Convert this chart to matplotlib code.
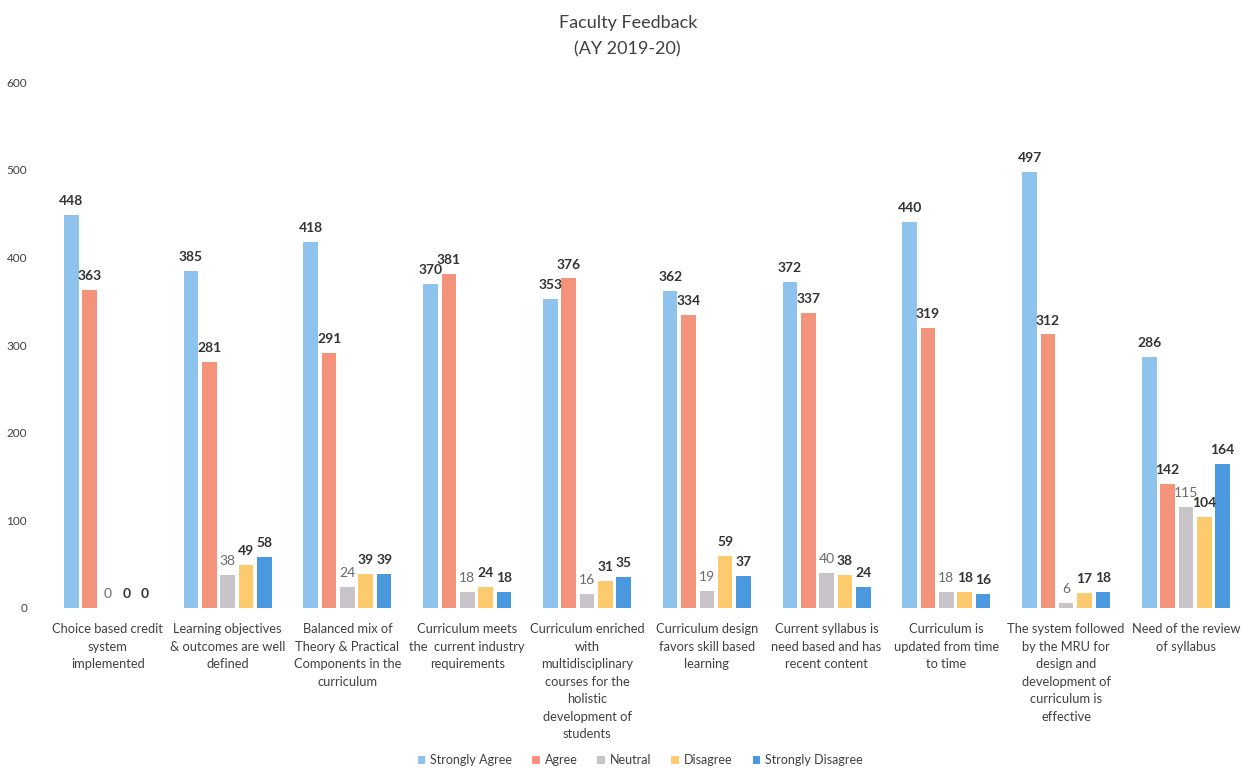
import numpy as np
import matplotlib
matplotlib.use("Agg")
import matplotlib.pyplot as plt

plt.rcParams["font.family"] = ["Lato", "DejaVu Sans"]

categories = [
    "Choice based credit\nsystem\nimplemented",
    "Learning objectives\n& outcomes are well\ndefined",
    "Balanced mix of\nTheory & Practical\nComponents in the\ncurriculum",
    "Curriculum meets\nthe  current industry\nrequirements",
    "Curriculum enriched\nwith\nmultidisciplinary\ncourses for the\nholistic\ndevelopment of\nstudents",
    "Curriculum design\nfavors skill based\nlearning",
    "Current syllabus is\nneed based and has\nrecent content",
    "Curriculum is\nupdated from time\nto time",
    "The system followed\nby the MRU for\ndesign and\ndevelopment of\ncurriculum is\neffective",
    "Need of the review\nof syllabus",
]
series_names = ["Strongly Agree", "Agree", "Neutral", "Disagree", "Strongly Disagree"]
strongly_agree = [448, 385, 418, 370, 353, 362, 372, 440, 497, 286]
agree = [363, 281, 291, 381, 376, 334, 337, 319, 312, 142]
neutral = [0, 38, 24, 18, 16, 19, 40, 18, 6, 115]
disagree = [0, 49, 39, 24, 31, 59, 38, 18, 17, 104]
strongly_disagree = [0, 58, 39, 18, 35, 37, 24, 16, 18, 164]

colors = ["#8DC3EC", "#F3937C", "#C9C4C9", "#FDCB6E", "#4A98DE"]
all_series = [strongly_agree, agree, neutral, disagree, strongly_disagree]

fig = plt.figure(figsize=(12.43, 7.74), dpi=100)
ax = fig.add_axes([0.0386, 0.2145, 0.9637, 0.6795])

x = np.arange(len(categories))
step = 0.153
width = 0.122
for i, (name, vals, col) in enumerate(zip(series_names, all_series, colors)):
    pos = x + (i - 2) * step
    bars = ax.bar(pos, vals, width=width, color=col, label=name)
    light = (name == "Neutral")
    for p, v in zip(pos, vals):
        ax.text(p, v + 9, str(v), ha="center", va="bottom",
                fontsize=10, color="#6a6a6a" if light else "#333333",
                fontweight="normal" if light else "bold")

ax.set_xlim(-0.5, 9.5)
ax.set_ylim(0, 600)
ax.set_yticks(range(0, 601, 100))
ax.set_xticks(x)
ax.set_xticklabels(categories, fontsize=9.3, color="#404040", linespacing=1.55, va="top")
ax.tick_params(axis="x", length=0, pad=11)
ax.tick_params(axis="y", length=0, pad=15, labelsize=8.5, labelcolor="#404040")
for s in ax.spines.values():
    s.set_visible(False)

fig.text(0.505, 0.98, "Faculty Feedback\n(AY 2019-20)", ha="center", va="top",
         fontsize=13, color="#404040", linespacing=1.75)

fig.legend(loc="center", bbox_to_anchor=(0.515, 0.018), ncol=5, frameon=False,
           fontsize=9, handlelength=0.6, handleheight=0.6, columnspacing=1.6,
           handletextpad=0.4, labelcolor="#404040")

fig.savefig("out.png", dpi=100)
